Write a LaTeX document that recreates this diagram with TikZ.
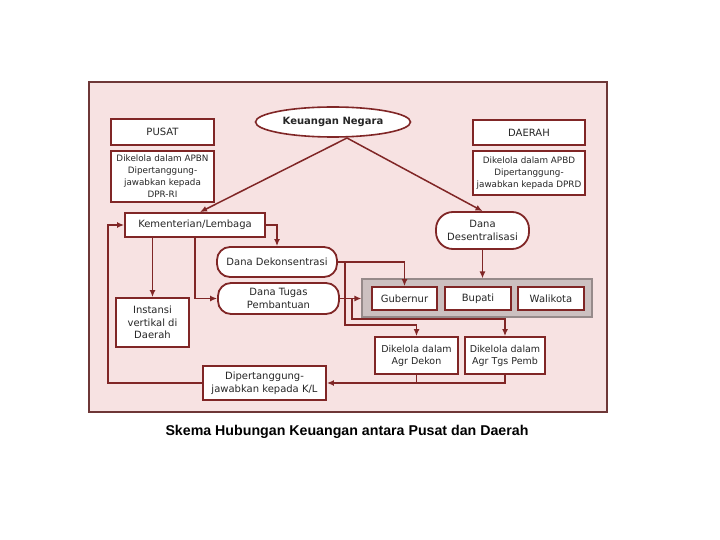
\documentclass[tikz,border=0pt]{standalone}
\usepackage{fontspec}
\setmainfont{DejaVu Sans}
\newfontfamily\titlefont{Liberation Sans}
\usepackage{tikz}
\usetikzlibrary{arrows.meta, positioning, shapes.geometric, calc}
\definecolor{maroon}{RGB}{128,38,38}
\definecolor{panelpink}{RGB}{247,226,226}
\definecolor{panelline}{RGB}{110,55,55}
\definecolor{greyfill}{RGB}{204,192,192}
\definecolor{greyline}{RGB}{150,138,138}

\begin{document}
\begin{tikzpicture}[x=1pt, y=-1pt,
        every node/.style={font=\fontsize{10}{12.5}\selectfont, text=black!85},
        box/.style={draw=maroon, line width=1.8pt, fill=white, align=center, inner sep=1pt},
        pill/.style={box, rounded corners=13pt},
        desc/.style={box, font=\fontsize{8.8}{11.8}\selectfont},
        arrowstyle/.style={-{Latex[length=7pt, width=6pt]}, line width=1.5pt, maroon},
        linkstyle/.style={line width=1.5pt, maroon}
    ]
        \useasboundingbox (0,0) rectangle (720,540);
        \draw[panelline, fill=panelpink, line width=1.3pt] (89,82) rectangle (607,412);

        \node[ellipse, draw=maroon, line width=1.6pt, fill=white, minimum width=155pt, minimum height=30pt,
              font=\bfseries\fontsize{10}{12}\selectfont] (keu) at (333,122) {Keuangan Negara};
        \node[box, minimum width=103pt, minimum height=26pt] (pusat) at (162.5,132) {PUSAT};
        \node[desc, below=4pt of pusat, minimum width=103pt, minimum height=51pt] (pusatdesc)
            {Dikelola dalam APBN\\Dipertanggung-\\jawabkan kepada\\DPR-RI};
        \node[box, minimum width=112pt, minimum height=25pt] (daerah) at (529,132.5) {DAERAH};
        \node[desc, below=4pt of daerah, minimum width=112pt, minimum height=44pt] (daerahdesc)
            {Dikelola dalam APBD\\Dipertanggung-\\jawabkan kepada DPRD};

        \node[box, minimum width=140pt, minimum height=24pt] (kl) at (195,225) {Kementerian/Lembaga};
        \node[pill, minimum width=120pt, minimum height=30pt] (dekon) at (277,262) {Dana Dekonsentrasi};
        \node[pill, minimum width=121pt, minimum height=31pt] (tugas) at (278.5,298.5) {Dana Tugas\\Pembantuan};
        \node[box, minimum width=73pt, minimum height=49pt] (instansi) at (152.5,322.5) {Instansi\\vertikal di\\Daerah};
        \node[pill, rounded corners=17pt, minimum width=93pt, minimum height=37pt] (desen) at (482.5,230.5) {Dana\\Desentralisasi};

        \node[draw=greyline, fill=greyfill, line width=1.2pt, minimum width=230pt, minimum height=38pt] (pemda) at (477,298) {};
        \node[box, minimum width=65pt, minimum height=23pt] (gub) at (404.5,298.5) {Gubernur};
        \node[box, minimum width=66pt, minimum height=23pt] (bup) at (478,298.5) {Bupati};
        \node[box, minimum width=66pt, minimum height=23pt] (wali) at (551,298.5) {Walikota};

        \node[box, minimum width=83pt, minimum height=37pt, font=\fontsize{9.5}{12}\selectfont] (agrdekon) at (416.5,355.5) {Dikelola dalam\\Agr Dekon};
        \node[box, minimum width=80pt, minimum height=37pt, font=\fontsize{9.5}{12}\selectfont] (agrtgs) at (505,355.5) {Dikelola dalam\\Agr Tgs Pemb};
        \node[box, minimum width=123pt, minimum height=34pt] (dipert) at (264.5,383) {Dipertanggung-\\jawabkan kepada K/L};

        \node[font=\titlefont\bfseries\fontsize{14.2}{16}\selectfont, text=black] (judul) at (347,432)
            {Skema Hubungan Keuangan antara Pusat dan Daerah};

        % from Keuangan Negara
        \coordinate (fork) at (347,138);
        \draw[arrowstyle] (fork) -- ($(kl.north)+(5,0)$);
        \draw[arrowstyle] (fork) -- (desen.north);

        % Kementerian/Lembaga
        \draw[arrowstyle] (kl.east) -| (dekon.north);
        \draw[arrowstyle] (instansi.north |- kl.south) -- (instansi.north);
        \draw[arrowstyle] (kl.south) |- (tugas.west);

        % dana ke daerah
        \draw[arrowstyle] (dekon.east) -| (gub.north);
        \draw[arrowstyle] (dekon.east) -- ++(7,0) |- ($(agrdekon.north)+(0,-11)$) -- (agrdekon.north);
        \draw[arrowstyle] (tugas.east) -- (pemda.west |- tugas.east);
        \draw[arrowstyle] (tugas.east) -- ++(12,0) |- ($(agrtgs.north)+(0,-17)$) -- (agrtgs.north);
        \draw[arrowstyle] (desen.south) -- (desen.south |- pemda.north);

        % pertanggungjawaban
        \draw[linkstyle] (agrdekon.south) -- (agrdekon.south |- dipert.east);
        \draw[arrowstyle] (agrtgs.south) |- (dipert.east);
        \draw[arrowstyle] (dipert.west) -- ++(-94,0) |- (kl.west);
    \end{tikzpicture}
\end{document}
